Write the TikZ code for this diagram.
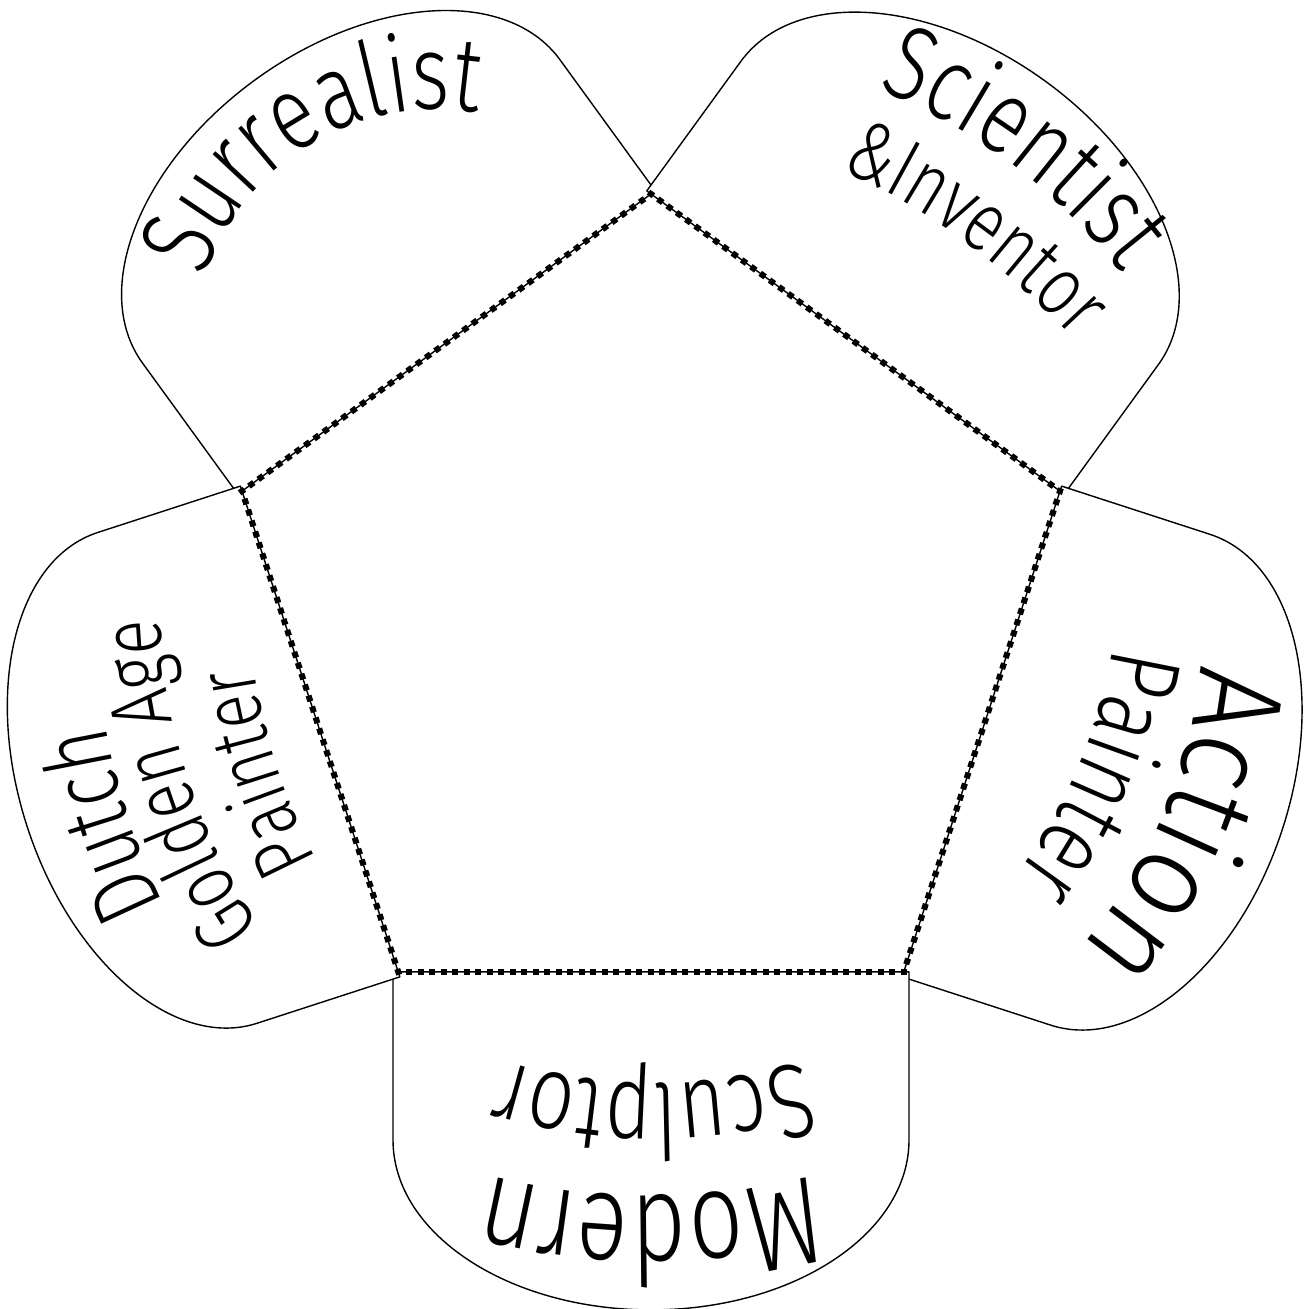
\documentclass[tikz,border=0pt]{standalone}
\usepackage{fontspec}
\IfFontExistsTF{Fira Sans Light}
  {\newfontfamily\hand{Fira Sans Light}[Scale=0.94, FakeStretch=0.77]
   \newfontfamily\handw{Fira Sans Light}[Scale=0.94, FakeStretch=0.9]}
  {\IfFontExistsTF{Fira Sans ExtraLight}
     {\newfontfamily\hand{Fira Sans ExtraLight}[Scale=0.94, FakeStretch=0.77]
      \newfontfamily\handw{Fira Sans ExtraLight}[Scale=0.94, FakeStretch=0.9]}
     {\newfontfamily\hand{Carlito}[FakeStretch=0.8]
      \newfontfamily\handw{Carlito}[FakeStretch=0.95]}}
\usetikzlibrary{decorations.text,decorations.markings}
% flap outline in local frame: #1 = length of straight sides, #2 = depth of rounded end
\newcommand\flapbody[2]{\draw[flapline] (-258,0) -- (258,0) -- (258,#1)
      arc[start angle=0, end angle=180, x radius=258, y radius=#2] -- cycle;}
\begin{document}
\begin{tikzpicture}[x=1pt,y=1pt,
  flapline/.style={draw=black, line width=1.4pt, fill=white, line join=round},
  dotline/.style={decorate, decoration={markings,
      mark=between positions 0 and 1 step 11.5pt with {\fill[black] (-3pt,-3pt) rectangle (3pt,3pt);}}},
  lbl/.style n args={2}{decorate, decoration={text along path, text align=center,
      text={|\hand\fontsize{#1}{#1}\selectfont|#2}}},
  lblw/.style n args={2}{decorate, decoration={text along path, text align=center,
      text={|\handw\fontsize{#1}{#1}\selectfont|#2}}}
]
\useasboundingbox (0,0) rectangle (1306,1309);
\coordinate (O) at (651,685);

% ---- flaps ----
% Surrealist
\begin{scope}[shift={(O)}, rotate=36, shift={(0,347.9)}]
  \flapbody{162}{163}
  \path[lbl={112}{Surrealist}] ([shift={(160:245)}]-15,-4) arc[start angle=160, end angle=10, radius=245];
\end{scope}
% Scientist & Inventor
\begin{scope}[shift={(O)}, rotate=-36, shift={(0,347.9)}]
  \flapbody{160}{163}
  \path[lbl={112}{Scientist}] ([shift={(114:573)}]12,-337) arc[start angle=114, end angle=64, radius=573];
  \path[lbl={90}{{\&}Inventor}] ([shift={(110:700)}]30,-554) arc[start angle=110, end angle=70, radius=700];
\end{scope}
% Action Painter
\begin{scope}[shift={(O)}, rotate=252, shift={(0,347.9)}]
  \flapbody{156}{160}
  \path[lblw={132}{Action}] ([shift={(125:500)}]-20,-300) arc[start angle=125, end angle=45, radius=500];
  \path[lbl={108}{Painter}] ([shift={(120:500)}]-40,-395) arc[start angle=120, end angle=50, radius=500];
\end{scope}
% Modern Sculptor
\begin{scope}[shift={(O)}, rotate=180, shift={(0,347.9)}]
  \flapbody{168}{170}
  \path[lbl={132}{Modern}] ([shift={(115:650)}]0,-426) arc[start angle=115, end angle=65, radius=650];
  \path[lbl={112}{Sculptor}] ([shift={(120:500)}]-3,-388) arc[start angle=120, end angle=60, radius=500];
\end{scope}
% Dutch Golden Age Painter
\begin{scope}[shift={(O)}, rotate=108, shift={(0,347.9)}]
  \flapbody{150}{158}
  \path[lbl={100}{Dutch}] ([shift={(110:600)}]-22,-391) arc[start angle=110, end angle=70, radius=600];
  \path[lbl={90}{Golden Age}] ([shift={(110:600)}]-6,-460) arc[start angle=110, end angle=70, radius=600];
  \path[lbl={88}{Painter}] ([shift={(110:600)}]-20,-548) arc[start angle=110, end angle=70, radius=600];
\end{scope}

% ---- pentagon fold lines ----
\coordinate (P1) at ([shift={(90:430)}]O);
\coordinate (P2) at ([shift={(18:430)}]O);
\coordinate (P3) at ([shift={(306:430)}]O);
\coordinate (P4) at ([shift={(234:430)}]O);
\coordinate (P5) at ([shift={(162:430)}]O);
\path[dotline] (P1) -- (P2);
\path[dotline] (P2) -- (P3);
\path[dotline] (P3) -- (P4);
\path[dotline] (P4) -- (P5);
\path[dotline] (P5) -- (P1);
\end{tikzpicture}
\end{document}
